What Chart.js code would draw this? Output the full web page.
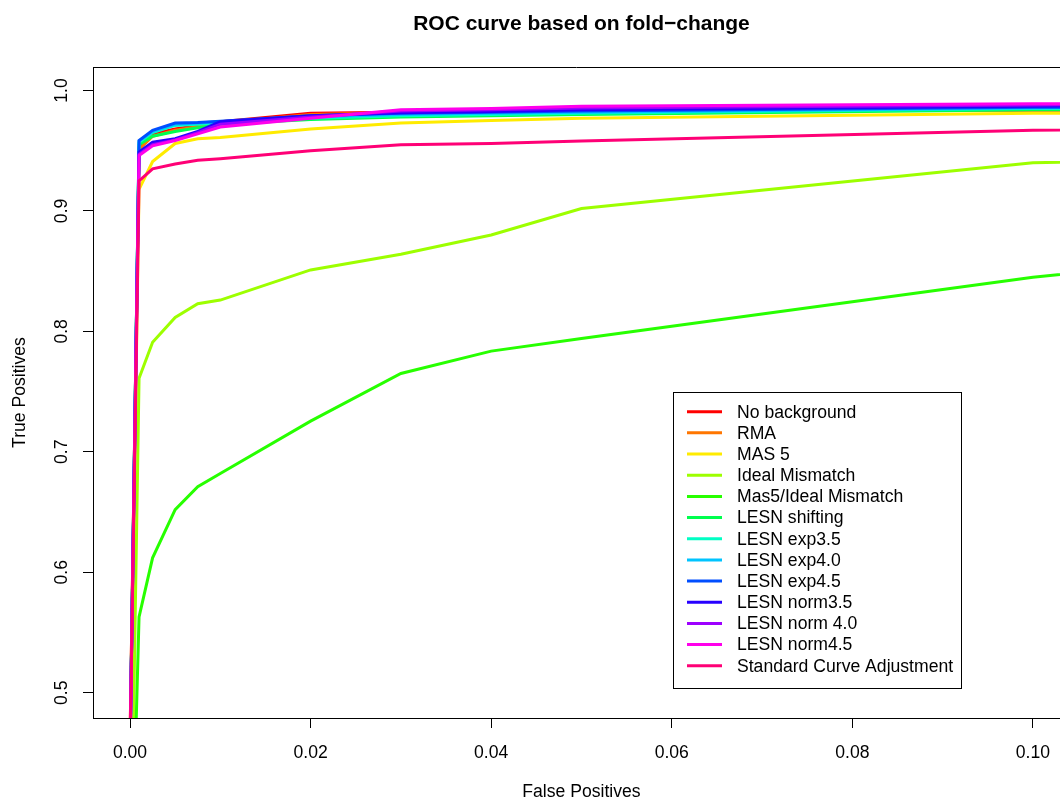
<!DOCTYPE html>
<html>
<head>
<meta charset="utf-8">
<title>ROC curve based on fold-change</title>
<script src="https://cdn.jsdelivr.net/npm/chart.js@4/dist/chart.umd.min.js"></script>
<style>
    html, body { margin: 0; padding: 0; background: #fff; overflow: hidden; }
    canvas { display: block; }
</style>
</head>
<body>
<canvas id="graficoROC" width="1060" height="802"></canvas>
<script>
// False positive rates where every method was evaluated
const falsePositives = [0, 0.001, 0.0025, 0.005, 0.0075, 0.01, 0.02, 0.03, 0.04, 0.05, 0.1, 0.2];

// True positive rate for each method
const noBackground   = [0.46, 0.953, 0.964, 0.968, 0.971, 0.974, 0.981, 0.982, 0.983, 0.9835, 0.984, 0.986];
const rma            = [0.46, 0.951, 0.962, 0.967, 0.970, 0.973, 0.980, 0.9815, 0.9825, 0.983, 0.9835, 0.986];
const mas5           = [0.44, 0.918, 0.941, 0.956, 0.960, 0.961, 0.968, 0.973, 0.975, 0.977, 0.981, 0.984];
const idealMismatch  = [0.30, 0.761, 0.791, 0.8115, 0.823, 0.826, 0.851, 0.864, 0.880, 0.902, 0.940, 0.955];
const mas5IdealMm    = [0.29, 0.563, 0.612, 0.652, 0.671, 0.682, 0.7255, 0.765, 0.7836, 0.794, 0.845, 0.920];
const lesnShifting   = [0.45, 0.955, 0.962, 0.966, 0.969, 0.972, 0.976, 0.978, 0.979, 0.980, 0.984, 0.987];
const lesnExp35      = [0.45, 0.957, 0.965, 0.971, 0.972, 0.973, 0.977, 0.979, 0.980, 0.981, 0.985, 0.988];
const lesnExp40      = [0.45, 0.958, 0.966, 0.972, 0.973, 0.974, 0.978, 0.980, 0.981, 0.982, 0.9855, 0.988];
const lesnExp45      = [0.45, 0.9585, 0.967, 0.973, 0.9735, 0.9745, 0.979, 0.981, 0.982, 0.983, 0.986, 0.989];
const lesnNorm35     = [0.45, 0.949, 0.957, 0.960, 0.966, 0.974, 0.979, 0.9815, 0.9825, 0.984, 0.987, 0.990];
const lesnNorm40     = [0.45, 0.947, 0.955, 0.959, 0.965, 0.972, 0.978, 0.983, 0.984, 0.9855, 0.988, 0.991];
const lesnNorm45     = [0.45, 0.946, 0.954, 0.9585, 0.964, 0.9696, 0.977, 0.984, 0.985, 0.987, 0.989, 0.992];
const standardCurve  = [0.45, 0.925, 0.935, 0.939, 0.942, 0.9434, 0.950, 0.955, 0.956, 0.958, 0.967, 0.972];

const methodNames = [
    'No background', 'RMA', 'MAS 5', 'Ideal Mismatch', 'Mas5/Ideal Mismatch',
    'LESN shifting', 'LESN exp3.5', 'LESN exp4.0', 'LESN exp4.5',
    'LESN norm3.5', 'LESN norm 4.0', 'LESN norm4.5', 'Standard Curve Adjustment'
];
const methodValues = [
    noBackground, rma, mas5, idealMismatch, mas5IdealMm,
    lesnShifting, lesnExp35, lesnExp40, lesnExp45,
    lesnNorm35, lesnNorm40, lesnNorm45, standardCurve
];
// rainbow(13)
const methodColors = [
    '#FF0000', '#FF7600', '#FFEB00', '#9DFF00', '#27FF00', '#00FF4E', '#00FFC4',
    '#00C4FF', '#004EFF', '#2700FF', '#9D00FF', '#FF00EB', '#FF0076'
];

// Axis ticks
const xTicks = [0, 0.02, 0.04, 0.06, 0.08, 0.10];
const xTickLabels = ['0.00', '0.02', '0.04', '0.06', '0.08', '0.10'];
const yTicks = [0.5, 0.6, 0.7, 0.8, 0.9, 1.0];
const yTickLabels = ['0.5', '0.6', '0.7', '0.8', '0.9', '1.0'];

const FONT = '"Liberation Sans", Arial, Helvetica, sans-serif';

// tick labels, titles, top border and legend box drawn by hand
const rocDecor = {
    id: 'rocDecor',
    afterDraw(chart) {
        const ctx = chart.ctx;
        const area = chart.chartArea;
        const xs = chart.scales.x;
        const ys = chart.scales.y;
        const midX = xs.getPixelForValue(0.05);

        ctx.save();
        ctx.strokeStyle = '#000';
        ctx.lineWidth = 1;
        ctx.beginPath();
        ctx.moveTo(area.left, Math.round(area.top) + 0.5);
        ctx.lineTo(area.right, Math.round(area.top) + 0.5);
        ctx.stroke();

        ctx.fillStyle = '#000';
        ctx.textAlign = 'center';
        ctx.textBaseline = 'middle';

        ctx.font = 'bold 21px ' + FONT;
        ctx.fillText('ROC curve based on fold\u2212change', midX, 24);

        ctx.font = '17.6px ' + FONT;
        xTicks.forEach((v, i) => {
            ctx.fillText(xTickLabels[i], xs.getPixelForValue(v), 753);
        });
        ctx.fillText('False Positives', midX, 792);

        yTicks.forEach((v, i) => {
            ctx.save();
            ctx.translate(62, ys.getPixelForValue(v));
            ctx.rotate(-Math.PI / 2);
            ctx.fillText(yTickLabels[i], 0, 0);
            ctx.restore();
        });
        ctx.save();
        ctx.translate(20, (area.top + area.bottom) / 2);
        ctx.rotate(-Math.PI / 2);
        ctx.fillText('True Positives', 0, 0);
        ctx.restore();

        // legend
        const boxX = 673, boxY = 392, boxW = 288, boxH = 296;
        ctx.fillStyle = '#fff';
        ctx.fillRect(boxX, boxY, boxW, boxH);
        ctx.strokeStyle = '#000';
        ctx.lineWidth = 1;
        ctx.strokeRect(boxX + 0.5, boxY + 0.5, boxW, boxH);
        ctx.textAlign = 'left';
        ctx.lineWidth = 3;
        methodNames.forEach((name, i) => {
            const rowY = 411.7 + i * 21.17;
            ctx.strokeStyle = methodColors[i];
            ctx.beginPath();
            ctx.moveTo(687, rowY);
            ctx.lineTo(722, rowY);
            ctx.stroke();
            ctx.fillStyle = '#000';
            ctx.fillText(name, 737, rowY + 1);
        });
        ctx.restore();
    }
};

document.addEventListener('DOMContentLoaded', function() {
    const ctx = document.getElementById('graficoROC').getContext('2d');
    new Chart(ctx, {
        type: 'line',
        data: {
            datasets: methodNames.map((name, i) => ({
                label: name,
                data: falsePositives.map((fp, j) => ({ x: fp, y: methodValues[i][j] })),
                borderColor: methodColors[i],
                backgroundColor: methodColors[i],
                borderWidth: 3,
                pointRadius: 0,
                fill: false,
                tension: 0,
                clip: 0,
                // later methods painted over earlier ones
                order: methodNames.length - i
            }))
        },
        options: {
            responsive: false,
            animation: false,
            layout: { padding: { top: 67, left: 0, right: 0, bottom: 0 } },
            plugins: {
                legend: { display: false },
                tooltip: { enabled: false }
            },
            scales: {
                x: {
                    type: 'linear',
                    min: -0.0041,
                    max: 0.103,
                    afterBuildTicks: scale => { scale.ticks = xTicks.map(v => ({ value: v })); },
                    afterFit: scale => { scale.height = 84; },
                    ticks: { display: false },
                    grid: { drawOnChartArea: false, drawTicks: true, tickLength: 10, color: '#000', lineWidth: 1 },
                    border: { display: true, color: '#000', width: 1 }
                },
                y: {
                    type: 'linear',
                    min: 0.479,
                    max: 1.0195,
                    afterBuildTicks: scale => { scale.ticks = yTicks.map(v => ({ value: v })); },
                    afterFit: scale => { scale.width = 93; },
                    ticks: { display: false },
                    grid: { drawOnChartArea: false, drawTicks: true, tickLength: 10, color: '#000', lineWidth: 1 },
                    border: { display: true, color: '#000', width: 1 }
                }
            }
        },
        plugins: [rocDecor]
    });
});
</script>
</body>
</html>
